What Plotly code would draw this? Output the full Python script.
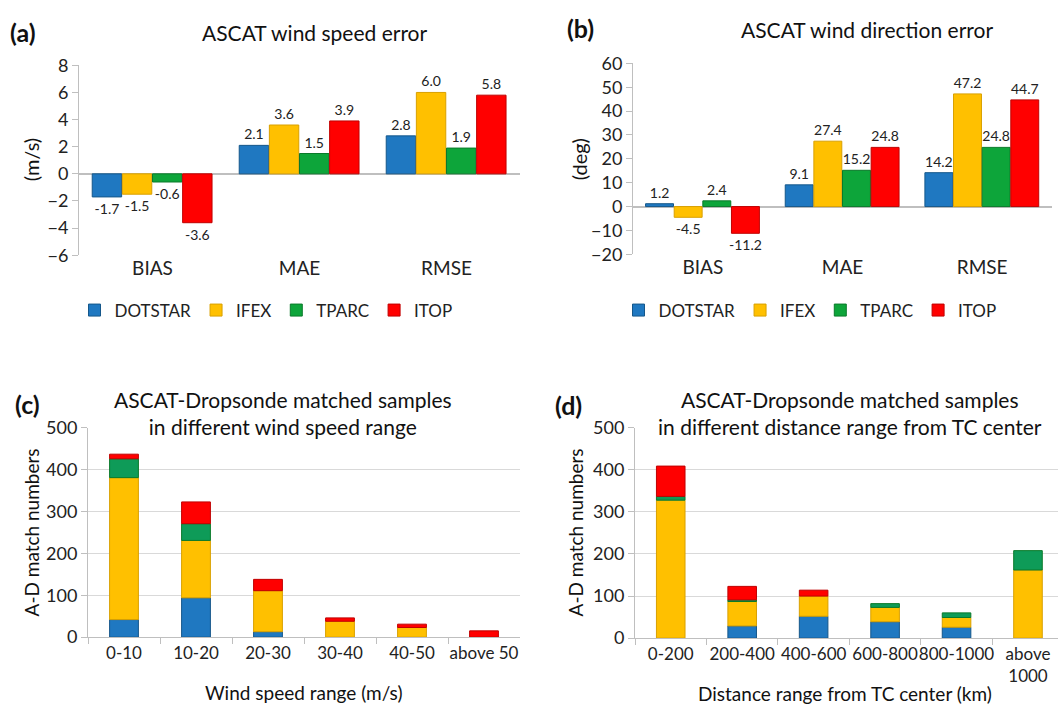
import numpy as np
import plotly.graph_objects as go

W, H = 1058, 715
FONT = "Lato"

series = ["DOTSTAR", "IFEX", "TPARC", "ITOP"]
colors = ["#1F78C1", "#FFC000", "#0DA53A", "#FF0000"]
colors_cd = ["#1F78C1", "#FFC000", "#0E9B58", "#FF0000"]
edge = ["#15578A", "#D9A000", "#0A7A2A", "#C00000"]

metrics = ["BIAS", "MAE", "RMSE"]
speed_err = {
    "DOTSTAR": [-1.7, 2.1, 2.8],
    "IFEX": [-1.5, 3.6, 6.0],
    "TPARC": [-0.6, 1.5, 1.9],
    "ITOP": [-3.6, 3.9, 5.8],
}
dir_err = {
    "DOTSTAR": [1.2, 9.1, 14.2],
    "IFEX": [-4.5, 27.4, 47.2],
    "TPARC": [2.4, 15.2, 24.8],
    "ITOP": [-11.2, 24.8, 44.7],
}

speed_ranges = ["0-10", "10-20", "20-30", "30-40", "40-50", "above 50"]
speed_counts = {
    "DOTSTAR": [42, 94, 13, 0, 0, 0],
    "IFEX": [339, 137, 98, 38, 23, 0],
    "TPARC": [45, 40, 0, 0, 0, 0],
    "ITOP": [11, 52, 27, 8, 8, 15],
}
dist_ranges = ["0-200", "200-400", "400-600", "600-800", "800-1000", "above<br>1000"]
dist_counts = {
    "DOTSTAR": [0, 29, 52, 39, 26, 0],
    "IFEX": [328, 58, 48, 34, 23, 162],
    "TPARC": [9, 4, 0, 9, 11, 46],
    "ITOP": [72, 32, 14, 0, 0, 0],
}

fig = go.Figure()

def px_x(p):
    return p / W

def px_y(p):
    return 1 - p / H

# grouped bars (a) and (b)
bw = 0.2
for panel, data, xa, ya, leg in [("a", speed_err, "x", "y", "legend"),
                                  ("b", dir_err, "x2", "y2", "legend2")]:
    for i, s in enumerate(series):
        fig.add_trace(go.Bar(
            x=metrics, y=data[s], name=s, xaxis=xa, yaxis=ya,
            offset=-0.41 + i * 0.205, width=bw,
            marker=dict(color=colors[i], line=dict(color=edge[i], width=1)),
            text=[f"{v:.1f}" for v in data[s]], textposition="outside",
            textfont=dict(family=FONT, size=14, color="#222"),
            constraintext="none",
            cliponaxis=False, legend=leg, showlegend=True,
        ))

# stacked bars (c) and (d)
for data, cats, xa, ya in [(speed_counts, speed_ranges, "x3", "y3"),
                           (dist_counts, dist_ranges, "x4", "y4")]:
    base = np.zeros(len(cats))
    for i, s in enumerate(series):
        vals = np.array(data[s], dtype=float)
        shown = np.where(vals > 0, vals, np.nan)
        fig.add_trace(go.Bar(
            x=cats, y=shown, base=base.copy(), name=s, xaxis=xa, yaxis=ya,
            width=0.4,
            marker=dict(color=colors_cd[i], line=dict(color=edge[i], width=1)),
            showlegend=False,
        ))
        base = base + vals

tickf = dict(family=FONT, size=18, color="#222")
xtickf = dict(family=FONT, size=17, color="#222")
catf = dict(family=FONT, size=19, color="#222")
grid = "#D9D9D9"
axc = "#BFBFBF"

fig.update_layout(
    width=W, height=H, barmode="overlay",
    margin=dict(l=0, r=0, t=0, b=0),
    paper_bgcolor="white", plot_bgcolor="white",
    font=dict(family=FONT, color="#222"),
    xaxis=dict(domain=[px_x(79), px_x(520)], anchor="y", type="category",
               range=[-0.5, 2.5], showline=False, ticks="", tickfont=catf,
               showgrid=False, tickangle=0),
    yaxis=dict(domain=[px_y(251), px_y(55)], anchor="x", range=[-6, 8],
               dtick=2, showgrid=False, zeroline=True, zerolinecolor=axc,
               zerolinewidth=1.5, showline=True, linecolor=axc,
               ticks="outside", ticklen=6, tickcolor=axc, tickfont=tickf),
    xaxis2=dict(domain=[px_x(633), px_x(1052)], anchor="y2", type="category",
                range=[-0.5, 2.5], showline=False, ticks="", tickfont=catf,
                showgrid=False, tickangle=0),
    yaxis2=dict(domain=[px_y(250), px_y(53)], anchor="x2", range=[-20, 60],
                dtick=10, showgrid=False, zeroline=True, zerolinecolor=axc,
                zerolinewidth=1.5, showline=True, linecolor=axc,
                ticks="outside", ticklen=6, tickcolor=axc, tickfont=tickf),
    xaxis3=dict(domain=[px_x(88), px_x(520)], anchor="y3", type="category",
                range=[-0.5, 5.5], showline=True, linecolor=axc,
                tickson="boundaries", ticks="outside", ticklen=6,
                tickcolor=axc, tickfont=xtickf, showgrid=False, tickangle=0),
    yaxis3=dict(domain=[px_y(645), px_y(429)], anchor="x3", range=[0, 500],
                dtick=100, showgrid=True, gridcolor=grid, showline=True,
                linecolor=axc, ticks="outside", ticklen=6,
                tickcolor=axc, tickfont=tickf, zeroline=False),
    xaxis4=dict(domain=[px_x(635), 1.0], anchor="y4", type="category",
                range=[-0.5, 5.42], showline=True, linecolor=axc,
                tickson="boundaries", ticks="outside", ticklen=6,
                tickcolor=axc, tickfont=xtickf, showgrid=False, tickangle=0),
    yaxis4=dict(domain=[px_y(646), px_y(429)], anchor="x4", range=[0, 500],
                dtick=100, showgrid=True, gridcolor=grid, showline=True,
                linecolor=axc, ticks="outside", ticklen=6,
                tickcolor=axc, tickfont=tickf, zeroline=False),
    legend=dict(orientation="h", x=px_x(266), xanchor="center", y=px_y(308),
                yanchor="middle", font=dict(family=FONT, size=17, color="#222"),
                bgcolor="rgba(0,0,0,0)", itemwidth=30, tracegroupgap=0),
    legend2=dict(orientation="h", x=px_x(810), xanchor="center", y=px_y(308),
                 yanchor="middle", font=dict(family=FONT, size=17, color="#222"),
                 bgcolor="rgba(0,0,0,0)", itemwidth=30, tracegroupgap=0),
)

def ann(text, x, y, size, bold=False, angle=0):
    fig.add_annotation(
        text=f"<b>{text}</b>" if bold else text, x=px_x(x), y=px_y(y),
        xref="paper", yref="paper", xanchor="center", yanchor="middle",
        showarrow=False, textangle=angle,
        font=dict(family=FONT, size=size, color="#111"),
    )

ann("(a)", 23, 21, 25, bold=True)
ann("ASCAT wind speed error", 315, 21, 21)
ann("(b)", 580, 17, 25, bold=True)
ann("ASCAT wind direction error", 867, 18, 21)
ann("(c)", 27, 404, 25, bold=True)
ann("ASCAT-Dropsonde matched samples<br>in different wind speed range", 283, 414, 21)
ann("(d)", 568, 405, 25, bold=True)
ann("ASCAT-Dropsonde matched samples<br>in different distance range from TC center", 850, 414, 21)
ann("(m/s)", 31, 153, 20, angle=-90)
ann("(deg)", 579, 152, 20, angle=-90)
ann("A-D match numbers", 31, 537, 19, angle=-90)
ann("A-D match numbers", 575, 537, 19, angle=-90)
ann("Wind speed range (m/s)", 303, 702, 19)
ann("Distance range from TC center (km)", 845, 703, 19)

fig.write_html("out.html")
